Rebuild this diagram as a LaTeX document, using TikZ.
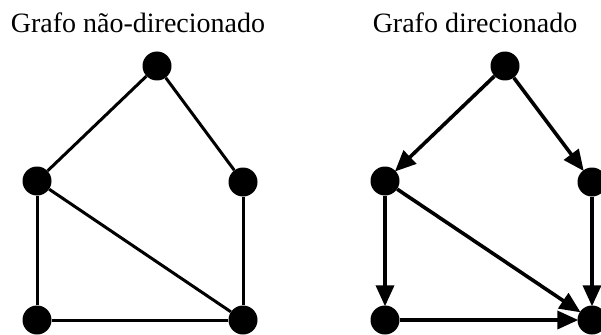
\documentclass[tikz,border=0pt]{standalone}
\usepackage{fontspec}
\setmainfont{Liberation Serif}
\usetikzlibrary{arrows.meta}
\begin{document}
\begin{tikzpicture}[x=1pt,y=-1pt,
  vtx/.style={circle,fill=black,draw=none,minimum size=29pt,inner sep=0pt},
  uedge/.style={line width=3pt},
  dedge/.style={line width=3.6pt,-{Triangle[length=21pt,width=18pt]},shorten >=-1pt},
  title/.style={anchor=base,font=\fontsize{28}{30}\selectfont,inner sep=0pt}]
\useasboundingbox (0,0) rectangle (601,334);
% titles
\node[title] (t1) at (138,33) {Grafo não-direcionado};
\node[title] (t2) at (475,33) {Grafo direcionado};
% undirected
\node[vtx] (a) at (157,66) {};
\node[vtx] (b) at (37,181) {};
\node[vtx] (c) at (243,182) {};
\node[vtx] (d) at (37,320) {};
\node[vtx] (e) at (243,320) {};
\draw[uedge] (a) -- (b);
\draw[uedge] (a) -- (c);
\draw[uedge] (b) -- (d);
\draw[uedge] (b) -- (e);
\draw[uedge] (c) -- (e);
\draw[uedge] (d) -- (e);
% directed
\node[vtx] (A) at (505,66) {};
\node[vtx] (B) at (385,181) {};
\node[vtx] (C) at (592,182) {};
\node[vtx] (D) at (385,320) {};
\node[vtx] (E) at (592,320) {};
\draw[dedge] (A) -- (B);
\draw[dedge] (A) -- (C);
\draw[dedge] (B) -- (D);
\draw[dedge] (B) -- (E);
\draw[dedge] (C) -- (E);
\draw[dedge] (D) -- (E);
\end{tikzpicture}
\end{document}
